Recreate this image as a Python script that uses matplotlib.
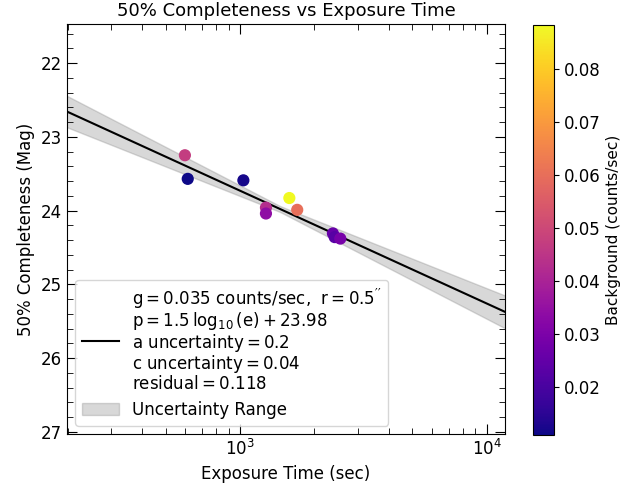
import numpy as np
import matplotlib.pyplot as plt

plt.rcParams['mathtext.default'] = 'regular'

# exposure time (sec), 50% completeness magnitude, background (counts/sec)
exposure = [598, 614, 1032, 1585, 1706, 1274, 1274, 2380, 2420, 2550]
completeness = [23.25, 23.57, 23.59, 23.83, 23.99, 23.96, 24.04, 24.31, 24.36, 24.38]
background = [0.047, 0.011, 0.012, 0.0884, 0.060, 0.043, 0.034, 0.026, 0.023, 0.029]

# fit p = a*log10(e/e_ref) + c
a_fit = 1.53
c_fit = 23.98
e_ref = 1456.0
a_err = 0.2
c_err = 0.04
resid = 0.118
g_bkg = 0.035
r_ap = 0.5

fig = plt.figure(figsize=(6.4, 4.86), dpi=100)
ax = fig.add_axes([67 / 640, 1 - 434 / 486, 438 / 640, 410 / 486])
cax = fig.add_axes([533 / 640, 1 - 435 / 486, 21 / 640, 410 / 486])

e = np.logspace(np.log10(150), np.log10(15000), 200)
L = np.log10(e / e_ref)
p = a_fit * L + c_fit
band = np.abs(a_err * L) + c_err

shade = ax.fill_between(e, p - band, p + band, color='grey', alpha=0.3,
                        label='Uncertainty Range')
fit_label = ("$g = %.3f$ counts/sec,  $r = %.1f''$\n"
             '$p = %.1f\\,\\log_{10}(e) + %.2f$\n'
             '$a$ uncertainty$ = %.1f$\n'
             '$c$ uncertainty$ = %.2f$\n'
             'residual$ = %.3f$') % (g_bkg, r_ap, a_fit, c_fit, a_err, c_err, resid)
fit_line, = ax.plot(e, p, color='black', lw=1.5, label=fit_label)

sc = ax.scatter(exposure, completeness, c=background, cmap='plasma', s=60,
                vmin=min(background), vmax=max(background), zorder=3)

ax.set_xscale('log')
ax.set_xlim(199, 11860)
ax.set_ylim(27.03, 21.47)
ax.set_yticks([22, 23, 24, 25, 26, 27])
ax.yaxis.set_minor_locator(plt.MultipleLocator(0.2))
ax.tick_params(which='both', direction='in', top=True, right=True, labelsize=12)
ax.tick_params(which='major', length=7)
ax.tick_params(which='minor', length=4)

ax.set_title('50% Completeness vs Exposure Time', fontsize=13)
ax.set_xlabel('Exposure Time (sec)', fontsize=12)
ax.set_ylabel('50% Completeness (Mag)', fontsize=12)

leg = ax.legend(handles=[fit_line, shade], loc='lower left', fontsize=12,
                handlelength=2.2, labelspacing=0.5)
for t in leg.get_texts():
    t.set_linespacing(0.97)

cb = fig.colorbar(sc, cax=cax)
cb.set_label('Background (counts/sec)', fontsize=11)
cb.ax.tick_params(labelsize=12)

fig.savefig('out.png', dpi=100)
